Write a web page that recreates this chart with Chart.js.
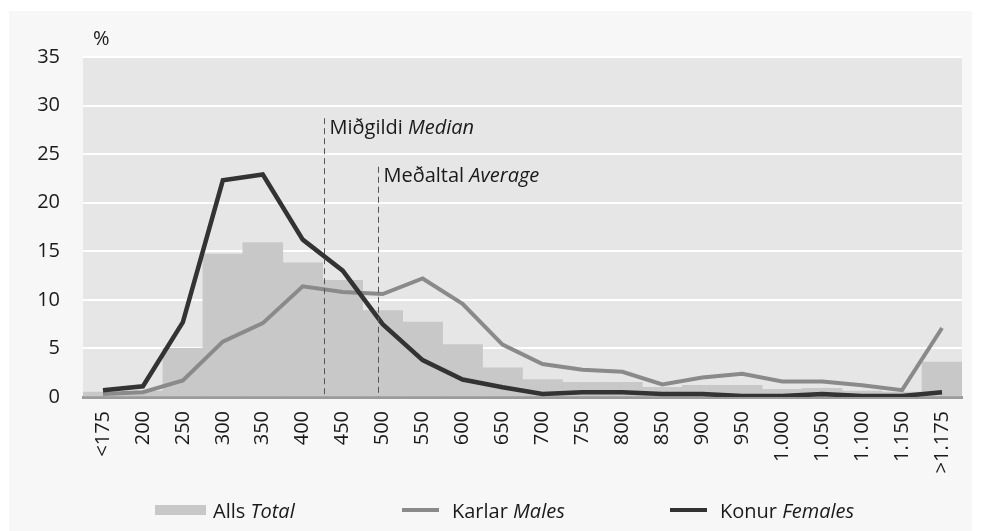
<!DOCTYPE html>
<html>
<head>
<meta charset="utf-8">
<script src="https://cdn.jsdelivr.net/npm/chart.js@4"></script>
<style>
  html, body { margin: 0; padding: 0; background: #ffffff; }
  body { width: 982px; height: 531px; position: relative; overflow: hidden; font-family: "Open Sans", sans-serif; color: #1a1a1a; }
  .panel { position: absolute; left: 9px; top: 11px; width: 963px; height: 520px; background: #f7f7f7; }
  .chart-wrap { position: absolute; left: 0; top: 0; width: 982px; height: 531px; }
  .legend-item { position: absolute; top: 496px; height: 28px; display: flex; align-items: center; font-size: 20px; white-space: nowrap; }
  .legend-item i { font-style: italic; }
  .sw { display: inline-block; margin-right: 7px; }
  .sw-bar { width: 51px; height: 10px; background: #c8c8c8; }
  .sw-line { width: 37px; height: 4px; margin-right: 13px; }
</style>
</head>
<body>
<div class="panel"></div>
<div class="chart-wrap"><canvas id="c" width="982" height="531"></canvas></div>
<div class="legend-item" style="left:155px"><span class="sw sw-bar"></span>Alls&nbsp;<i>Total</i></div>
<div class="legend-item" style="left:402px"><span class="sw sw-line" style="background:#8a8a8a"></span>Karlar&nbsp;<i>Males</i></div>
<div class="legend-item" style="left:670px"><span class="sw sw-line" style="background:#333333"></span>Konur&nbsp;<i>Females</i></div>
<script>
// tekjubil, hlutfall í hverju bili
const categories = ["<175", "200", "250", "300", "350", "400", "450", "500", "550", "600", "650",
  "700", "750", "800", "850", "900", "950", "1.000", "1.050", "1.100", "1.150", ">1.175"];

const totalValues = [0.5, 0.6, 5.0, 14.7, 15.9, 13.8, 12.0, 8.9, 7.7, 5.4, 3.0,
  1.8, 1.5, 1.5, 1.0, 1.2, 1.2, 0.8, 0.9, 0.6, 0.5, 3.6];

const maleValues = [0.3, 0.5, 1.7, 5.7, 7.6, 11.4, 10.8, 10.6, 12.2, 9.6, 5.4,
  3.4, 2.8, 2.6, 1.3, 2.0, 2.4, 1.6, 1.6, 1.2, 0.7, 7.1];

const femaleValues = [0.7, 1.1, 7.7, 22.3, 22.9, 16.2, 13.0, 7.5, 3.8, 1.8, 1.0,
  0.3, 0.5, 0.5, 0.3, 0.3, 0.1, 0.1, 0.3, 0.1, 0.1, 0.5];

const yTicks = [0, 5, 10, 15, 20, 25, 30, 35];

// miðgildi og meðaltal, í einingum flokkaássins (brotin staðsetning)
const markers = [
  { at: 5.53, top: 28.7, label: "Miðgildi ", labelItalic: "Median" },
  { at: 6.88, top: 23.7, label: "Meðaltal ", labelItalic: "Average" },
];

const FONT = "Open Sans";

const decorPlugin = {
  id: "decor",
  beforeDraw(chart) {
    const { ctx, chartArea: a } = chart;
    ctx.save();
    ctx.fillStyle = "#e6e6e6";
    ctx.fillRect(a.left, a.top, a.right - a.left, a.bottom - a.top);
    ctx.restore();
  },
  afterDraw(chart) {
    const { ctx, chartArea: a, scales } = chart;
    ctx.save();
    ctx.fillStyle = "#1a1a1a";
    ctx.font = `20px "${FONT}"`;
    ctx.textBaseline = "middle";
    ctx.fillText("%", 93, 39);

    markers.forEach((m) => {
      const x = Math.round(scales.x.getPixelForValue(m.at)) + 0.5;
      const yTop = scales.y.getPixelForValue(m.top);
      ctx.strokeStyle = "#555555";
      ctx.lineWidth = 1;
      ctx.setLineDash([6, 4]);
      ctx.beginPath();
      ctx.moveTo(x, yTop);
      ctx.lineTo(x, a.bottom);
      ctx.stroke();
      ctx.setLineDash([]);

      const ty = yTop + 10;
      ctx.font = `20px "${FONT}"`;
      ctx.fillText(m.label, x + 5, ty);
      const w = ctx.measureText(m.label).width;
      ctx.font = `italic 20px "${FONT}"`;
      ctx.fillText(m.labelItalic, x + 5 + w, ty);
    });
    ctx.restore();
  },
};

new Chart(document.getElementById("c").getContext("2d"), {
  data: {
    labels: categories,
    datasets: [
      {
        type: "line",
        label: "Konur Females",
        data: femaleValues,
        borderColor: "#333333",
        borderWidth: 4.5,
        pointRadius: 0,
        tension: 0,
        order: 1,
      },
      {
        type: "line",
        label: "Karlar Males",
        data: maleValues,
        borderColor: "#8a8a8a",
        borderWidth: 4,
        pointRadius: 0,
        tension: 0,
        order: 2,
      },
      {
        type: "bar",
        label: "Alls Total",
        data: totalValues,
        backgroundColor: "#c8c8c8",
        barPercentage: 1,
        categoryPercentage: 1,
        borderWidth: 0,
        order: 3,
      },
    ],
  },
  options: {
    responsive: false,
    animation: false,
    events: [],
    layout: { padding: { left: 0, right: 20, top: 57, bottom: 0 } },
    plugins: { legend: { display: false }, tooltip: { enabled: false } },
    scales: {
      x: {
        z: 1,
        offset: true,
        grid: { display: false, drawTicks: false },
        border: { display: true, color: "#9b9b9b", width: 3 },
        ticks: {
          autoSkip: false,
          minRotation: 90,
          maxRotation: 90,
          padding: 14,
          color: "#1a1a1a",
          font: { family: FONT, size: 20 },
        },
        afterFit: (s) => { s.height = 134; },
      },
      y: {
        min: 0,
        max: 35,
        afterBuildTicks: (s) => { s.ticks = yTicks.map((v) => ({ value: v })); },
        grid: { color: "#ffffff", lineWidth: 2, drawTicks: false },
        border: { display: false },
        ticks: {
          padding: 23,
          color: "#1a1a1a",
          font: { family: FONT, size: 20 },
        },
        afterFit: (s) => { s.width = 83; },
      },
    },
  },
  plugins: [decorPlugin],
});
</script>
</body>
</html>
